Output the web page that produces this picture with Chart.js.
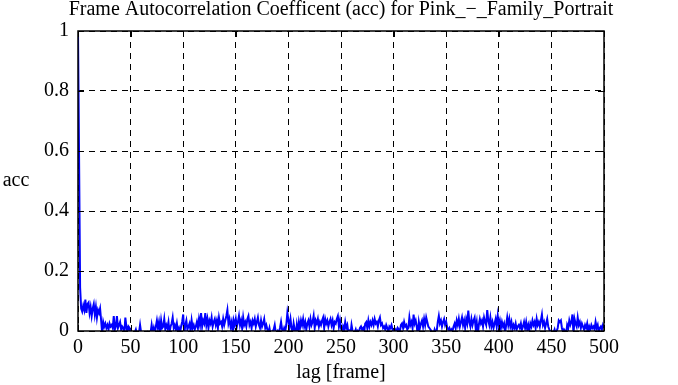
<!DOCTYPE html>
<html>
<head>
<meta charset="utf-8">
<script src="https://cdn.jsdelivr.net/npm/chart.js@4.4.0/dist/chart.umd.min.js"></script>
<style>
  html, body { margin: 0; padding: 0; background: #fff; }
  canvas { display: block; }
</style>
</head>
<body>
<canvas id="acc" width="678" height="385"></canvas>
<script>
const chartTitle = "Frame Autocorrelation Coefficent (acc) for Pink_\u2212_Family_Portrait";
const xLabel = "lag [frame]";
const yLabel = "acc";
const xTicks = [0, 50, 100, 150, 200, 250, 300, 350, 400, 450, 500];
const yTicks = [0, 0.2, 0.4, 0.6, 0.8, 1];
const yTickLabels = ["0", "0.2", "0.4", "0.6", "0.8", "1"];

// acc value for lag 0..500
const accValues = [
  1.0, 0.585, 0.145, 0.075, 0.065, 0.085, 0.07, 0.105, 0.06, 0.09,
  0.095, 0.06, 0.08, 0.05, 0.075, 0.09, 0.055, 0.08, 0.045, 0.07,
  0.06, 0.075, 0.035, -0.01, 0.03, 0.015, 0.025, 0.01, 0.02, 0.005,
  0.025, 0.015, 0.02, 0.01, 0.05, 0.005, 0.015, 0.05, 0.01, 0.02,
  0.03, 0.005, 0.015, 0.01, -0.01, 0.045, 0.015, -0.005, 0.015, 0.01,
  -0.01, -0.005, -0.015, -0.01, -0.005, 0.005, -0.01, -0.015, -0.005, 0.02,
  -0.005, -0.01, -0.015, -0.01, -0.02, -0.01, -0.005, -0.015, -0.01, -0.005,
  0.02, -0.005, 0.01, -0.01, 0.015, 0.035, 0.01, 0.03, 0.0, 0.035,
  0.01, 0.015, 0.04, 0.005, 0.02, 0.01, 0.03, -0.005, 0.015, 0.025,
  0.045, 0.01, 0.02, 0.005, 0.025, 0.0, 0.01, -0.005, 0.015, 0.03,
  0.055, -0.01, 0.02, 0.035, 0.005, 0.015, 0.025, 0.0, 0.035, 0.01,
  0.02, 0.005, 0.015, 0.03, 0.01, 0.04, 0.02, 0.06, 0.015, 0.035,
  0.025, 0.06, 0.02, 0.04, 0.01, 0.035, 0.025, 0.045, 0.015, 0.03,
  0.04, 0.02, 0.035, 0.01, 0.045, 0.025, 0.03, 0.015, 0.04, 0.02,
  0.035, 0.05, 0.07, 0.025, 0.04, 0.015, 0.03, -0.01, 0.035, 0.02,
  0.04, 0.015, 0.03, 0.05, 0.02, 0.035, 0.01, 0.045, 0.02, 0.03,
  0.015, 0.04, 0.05, 0.02, 0.03, 0.01, 0.035, 0.025, 0.04, 0.015,
  0.03, 0.045, 0.02, 0.01, 0.035, 0.015, 0.025, 0.04, 0.01, 0.02,
  0.005, -0.005, 0.01, -0.01, -0.005, 0.0, 0.005, 0.02, -0.005, -0.01,
  0.0, -0.005, 0.01, 0.03, 0.005, -0.005, 0.01, 0.0, 0.02, 0.06,
  0.035, 0.015, 0.04, 0.01, -0.01, 0.025, 0.005, -0.015, 0.02, -0.005,
  0.03, 0.01, 0.035, 0.02, 0.04, 0.015, 0.03, 0.005, 0.025, 0.035,
  0.015, 0.04, 0.02, 0.03, 0.05, 0.01, 0.035, 0.025, 0.04, 0.015,
  0.03, 0.02, 0.035, 0.045, 0.01, 0.04, 0.025, 0.035, 0.015, 0.03,
  0.04, 0.02, 0.035, 0.01, 0.03, 0.025, 0.04, 0.05, 0.015, 0.035,
  0.01, -0.005, 0.015, 0.005, 0.03, 0.01, 0.02, -0.005, 0.0, -0.01,
  0.02, 0.0, -0.01, -0.005, 0.005, -0.01, 0.0, -0.005, 0.01, 0.015,
  0.005, 0.01, -0.005, 0.025, 0.03, 0.01, 0.035, 0.015, 0.03, 0.02,
  0.035, 0.02, 0.04, 0.025, 0.03, 0.015, 0.035, 0.045, 0.02, 0.025,
  0.01, 0.015, 0.005, 0.02, 0.01, -0.005, 0.015, 0.01, 0.02, 0.005,
  -0.005, 0.0, 0.005, -0.01, 0.01, 0.005, 0.0, 0.02, 0.025, 0.01,
  0.03, 0.015, 0.02, 0.005, 0.01, 0.045, 0.02, 0.03, 0.01, 0.055,
  0.025, 0.035, 0.015, -0.015, 0.03, 0.01, 0.025, 0.035, 0.015, 0.04,
  0.02, 0.045, 0.03, 0.015, 0.01, 0.005, 0.0, -0.005, -0.01, 0.005,
  -0.005, 0.0, 0.03, 0.05, 0.025, 0.035, 0.015, 0.03, 0.04, 0.02,
  0.03, 0.01, 0.005, 0.01, -0.005, 0.005, 0.0, 0.015, 0.025, 0.01,
  0.035, 0.02, 0.04, 0.015, 0.03, 0.045, 0.02, 0.035, 0.01, 0.04,
  0.025, 0.068, 0.03, 0.015, 0.04, 0.02, 0.035, 0.045, 0.01, 0.03,
  -0.015, 0.02, 0.04, 0.025, 0.035, 0.015, 0.045, 0.03, 0.02, 0.07,
  0.035, 0.02, 0.045, 0.015, 0.03, 0.01, 0.025, 0.04, 0.015, 0.05,
  0.02, 0.035, 0.01, 0.03, 0.015, 0.025, -0.005, 0.02, 0.045, 0.02,
  0.04, 0.015, 0.03, 0.005, 0.02, 0.01, 0.025, 0.005, 0.015, 0.02,
  0.01, 0.025, 0.005, 0.015, 0.03, 0.01, 0.03, 0.005, 0.02, 0.0,
  0.025, 0.015, 0.035, 0.02, 0.03, 0.01, 0.04, 0.02, 0.03, 0.015,
  0.035, 0.055, 0.02, 0.03, 0.01, 0.025, 0.04, 0.015, 0.005, -0.005,
  0.0, -0.01, -0.005, 0.005, -0.01, 0.0, 0.01, 0.035, 0.03, 0.035,
  0.01, -0.005, 0.005, 0.0, -0.01, 0.02, 0.01, 0.035, 0.02, 0.03,
  0.055, -0.01, 0.04, 0.025, 0.015, 0.045, 0.02, 0.03, 0.01, 0.025,
  0.015, 0.005, 0.02, 0.01, 0.025, 0.0, 0.015, 0.005, 0.02, 0.01,
  0.015, 0.005, 0.03, 0.01, 0.02, -0.005, 0.01, 0.015, 0.005, 0.02,
  0.01
];

const font = "'Liberation Serif', 'Times New Roman', serif";
const fontSize = 20;

const points = accValues.map((v, lag) => ({ x: lag, y: v }));

// frame, inward tick marks, title and axis labels in gnuplot style
const framePlugin = {
  id: "frame",
  afterDatasetsDraw(chart) {
    const { ctx, chartArea: a, scales } = chart;
    ctx.save();
    ctx.strokeStyle = "#000";
    ctx.lineWidth = 1;
    ctx.beginPath();
    xTicks.forEach((t) => {
      const px = Math.round(scales.x.getPixelForValue(t)) + 0.5;
      ctx.moveTo(px, a.bottom); ctx.lineTo(px, a.bottom - 6);
      ctx.moveTo(px, a.top); ctx.lineTo(px, a.top + 6);
    });
    yTicks.forEach((t) => {
      const py = Math.round(scales.y.getPixelForValue(t)) + 0.5;
      ctx.moveTo(a.left, py); ctx.lineTo(a.left + 6, py);
      ctx.moveTo(a.right, py); ctx.lineTo(a.right - 6, py);
    });
    ctx.stroke();
    ctx.lineWidth = 1.5;
    ctx.strokeRect(a.left, a.top, a.right - a.left, a.bottom - a.top);

    ctx.fillStyle = "#000";
    ctx.font = fontSize + "px " + font;
    ctx.textAlign = "center";
    ctx.textBaseline = "middle";
    ctx.fillText(chartTitle, (a.left + a.right) / 2, 10);
    ctx.fillText(xLabel, (a.left + a.right) / 2, 373);
    ctx.fillText(yLabel, 16, 181);
    ctx.restore();
  }
};

new Chart(document.getElementById("acc"), {
  type: "line",
  data: {
    datasets: [{
      data: points,
      borderColor: "#0000ff",
      borderWidth: 2,
      pointRadius: 0,
      tension: 0,
      fill: false
    }]
  },
  options: {
    responsive: false,
    animation: false,
    devicePixelRatio: 1,
    layout: { padding: { top: 31, right: 74, left: 0, bottom: 0 } },
    plugins: { legend: { display: false }, tooltip: { enabled: false } },
    scales: {
      x: {
        type: "linear",
        min: 0,
        max: 500,
        afterFit(scale) { scale.height = 54; },
        afterBuildTicks(scale) { scale.ticks = xTicks.map((v) => ({ value: v })); },
        ticks: { color: "#000", padding: 5, maxRotation: 0, font: { family: font, size: fontSize } },
        grid: { color: "#000", lineWidth: 1, drawTicks: false },
        border: { display: false, dash: [6, 5] }
      },
      y: {
        min: 0,
        max: 1,
        afterFit(scale) { scale.width = 78; },
        afterBuildTicks(scale) { scale.ticks = yTicks.map((v) => ({ value: v })); },
        ticks: {
          color: "#000",
          padding: 9,
          font: { family: font, size: fontSize },
          callback: (value, i) => yTickLabels[i]
        },
        grid: { color: "#000", lineWidth: 1, drawTicks: false },
        border: { display: false, dash: [6, 5] }
      }
    }
  },
  plugins: [framePlugin]
});
</script>
</body>
</html>
